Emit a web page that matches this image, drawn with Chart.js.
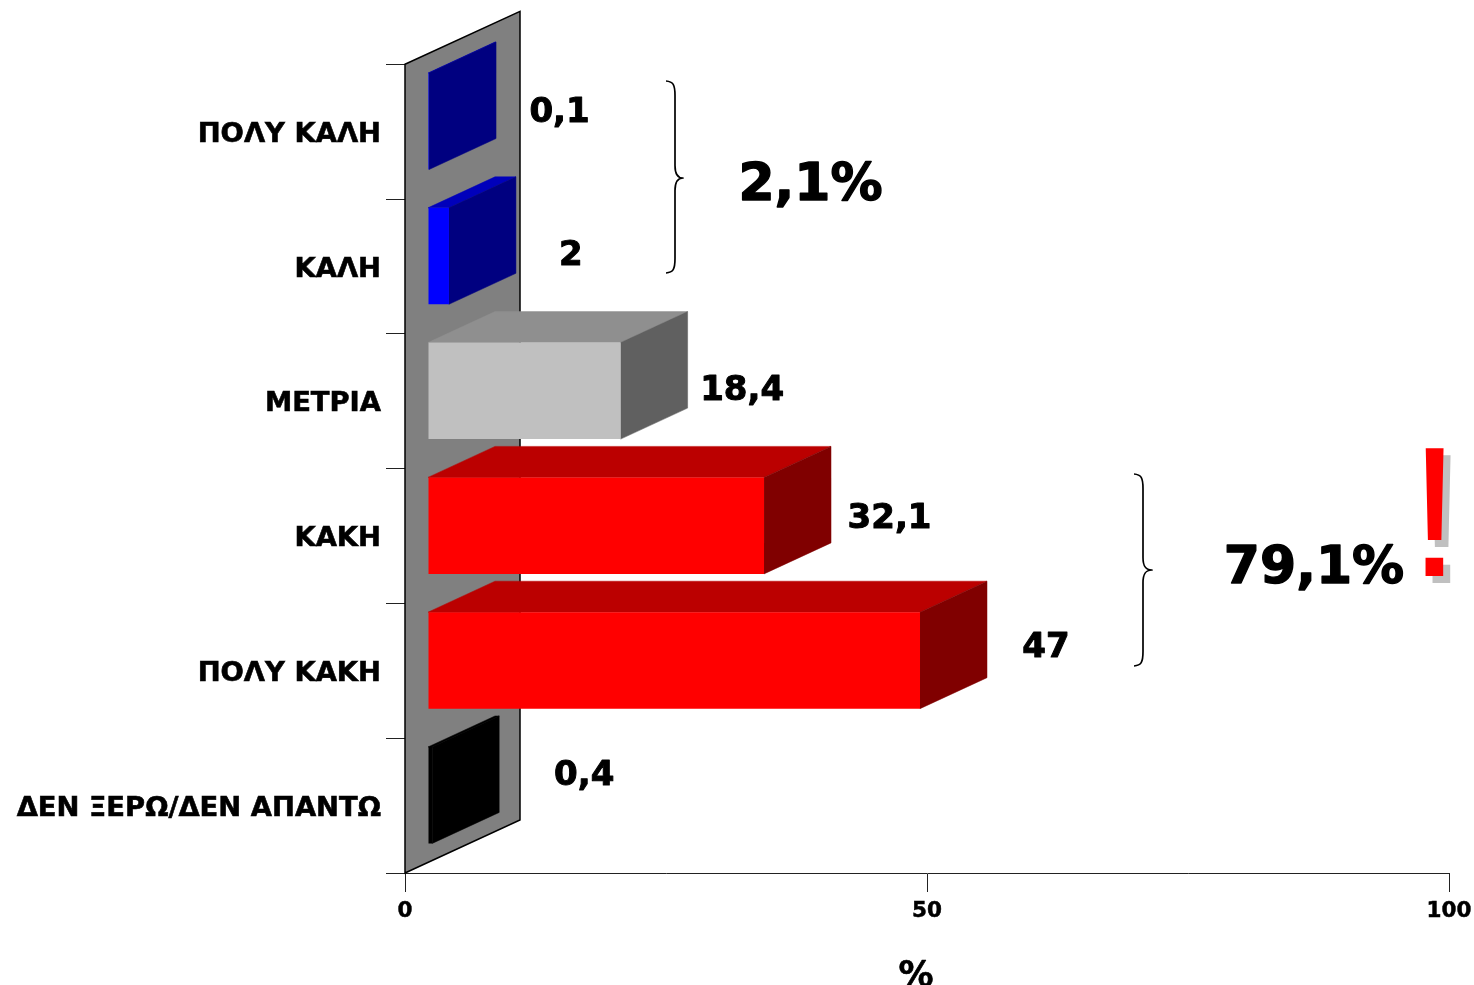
<!DOCTYPE html>
<html><head><meta charset="utf-8">
<style>html,body{margin:0;padding:0;background:#fff;overflow:hidden}canvas{display:block}</style>
<script src="https://cdn.jsdelivr.net/npm/chart.js@4/dist/chart.umd.min.js"></script>
</head><body>
<div style="width:1474px;height:985px"><canvas id="c"></canvas></div>
<script>
const categories = ["ΠΟΛΥ ΚΑΛΗ","ΚΑΛΗ","ΜΕΤΡΙΑ","ΚΑΚΗ","ΠΟΛΥ ΚΑΚΗ","ΔΕΝ ΞΕΡΩ/ΔΕΝ ΑΠΑΝΤΩ"];
const values = [0.1, 2, 18.4, 32.1, 47, 0.4];
const valueLabels = ["0,1","2","18,4","32,1","47","0,4"];
const xTicks = [0, 50, 100];
const xTitle = "%";
const frontColors = ["#0000ff","#0000ff","#c0c0c0","#ff0000","#ff0000","#000000"];
const topColors   = ["#0000bb","#0000bb","#8f8f8f","#bb0000","#bb0000","#000000"];
const sideColors  = ["#000080","#000080","#606060","#800000","#800000","#000000"];
const labelDX = [63.5, 55, 54.5, 58.5, 59, 85];
const labelDY = [-23, -14, -14, -21, -27, -34];

const FONT = '"DejaVu Sans"';
const FRONT = {dx: 23, dy: -10.4, sx: 1.0027};
const DEPTH = {dx: 67, dy: -31};
const WALL = {dx: 115, dy: -53};

function brace(ctx, tipX, spineX, pointX, y0, yM, y1) {
  const r = spineX - tipX;
  ctx.beginPath();
  ctx.moveTo(tipX, y0);
  ctx.bezierCurveTo(tipX + r*0.8, y0 + 0.5, spineX, y0 + r*0.4, spineX, y0 + r*1.6);
  ctx.lineTo(spineX, yM - r*1.4);
  ctx.bezierCurveTo(spineX, yM - r*0.5, spineX + 2, yM, pointX, yM);
  ctx.bezierCurveTo(spineX + 2, yM, spineX, yM + r*0.5, spineX, yM + r*1.4);
  ctx.lineTo(spineX, y1 - r*1.6);
  ctx.bezierCurveTo(spineX, y1 - r*0.4, tipX + r*0.8, y1 - 0.5, tipX, y1);
  ctx.lineWidth = 1.7; ctx.strokeStyle = "#000"; ctx.stroke();
}
function poly(ctx, pts, fill) {
  ctx.beginPath();
  pts.forEach((p,i)=> i ? ctx.lineTo(p[0],p[1]) : ctx.moveTo(p[0],p[1]));
  ctx.closePath(); ctx.fillStyle = fill; ctx.fill();
  ctx.lineWidth = 0.5; ctx.strokeStyle = fill; ctx.stroke();
}
function boldText(ctx, s, x, y, w) {
  ctx.lineWidth = w; ctx.strokeStyle = "#000"; ctx.lineJoin = "round";
  ctx.fillText(s, x, y); ctx.strokeText(s, x, y);
}
const bar3d = {
  id: "bar3d",
  beforeDatasetsDraw(chart) {
    const {ctx, chartArea:a} = chart;
    const x0 = chart.scales.x.getPixelForValue(0);
    const yT = a.top, yB = a.bottom;
    ctx.save();
    ctx.beginPath();
    ctx.moveTo(x0, yT); ctx.lineTo(x0+WALL.dx, yT+WALL.dy);
    ctx.lineTo(x0+WALL.dx, yB+WALL.dy); ctx.lineTo(x0, yB); ctx.closePath();
    ctx.fillStyle = "#808080"; ctx.fill();
    ctx.lineWidth = 1.5; ctx.strokeStyle = "#000"; ctx.stroke();
    chart.getDatasetMeta(0).data.forEach((el,i)=>{
      const l = x0 + FRONT.dx;
      const r = l + (el.x - x0)*FRONT.sx;
      const t = el.y - el.height/2 + FRONT.dy, b = el.y + el.height/2 + FRONT.dy;
      poly(ctx, [[l,t],[r,t],[r+DEPTH.dx,t+DEPTH.dy],[l+DEPTH.dx,t+DEPTH.dy]], topColors[i]);
      poly(ctx, [[r,t],[r+DEPTH.dx,t+DEPTH.dy],[r+DEPTH.dx,b+DEPTH.dy],[r,b]], sideColors[i]);
    });
    ctx.restore();
  },
  beforeDatasetDraw(chart) {
    const {ctx} = chart, x0 = chart.scales.x.getPixelForValue(0);
    ctx.save();
    ctx.translate(x0 + FRONT.dx, FRONT.dy);
    ctx.scale(FRONT.sx, 1);
    ctx.translate(-x0, 0);
  },
  afterDatasetDraw(chart) { chart.ctx.restore(); },
  afterDraw(chart) {
    const {ctx} = chart, x0 = chart.scales.x.getPixelForValue(0);
    ctx.save();
    ctx.textBaseline = "alphabetic"; ctx.textAlign = "center"; ctx.fillStyle = "#000";
    ctx.font = "bold 34px " + FONT;
    chart.getDatasetMeta(0).data.forEach((el,i)=>{
      const r = x0 + FRONT.dx + (el.x - x0)*FRONT.sx + DEPTH.dx;
      boldText(ctx, valueLabels[i], r + labelDX[i], el.y + labelDY[i] + 13, 1);
    });
    ctx.font = "bold 35px " + FONT;
    boldText(ctx, xTitle, 916, 986, 0.6);
    ctx.font = "bold 52px " + FONT;
    boldText(ctx, "2,1%", 810.5, 200, 1.4);
    boldText(ctx, "79,1%", 1314, 583, 1.4);
    brace(ctx, 666, 675, 683, 81, 178, 273);
    brace(ctx, 1134, 1143, 1152, 474, 570, 666);
    ctx.font = "186px 'Liberation Sans'";
    ctx.fillStyle = "#c0c0c0"; ctx.fillText("!", 1441.5, 583);
    ctx.fillStyle = "#ff0000"; ctx.fillText("!", 1434.5, 576);
    ctx.restore();
  }
};
new Chart(document.getElementById("c"), {
  type: "bar",
  data: { labels: categories, datasets: [{ data: values, backgroundColor: frontColors, borderWidth: 0, barPercentage: 0.716, categoryPercentage: 1 }] },
  options: {
    indexAxis: "y", responsive: true, maintainAspectRatio: false, animation: false,
    layout: { padding: { top: 64.3, right: 25, left: 0, bottom: 0 } },
    plugins: { legend: {display:false}, tooltip: {enabled:false} },
    scales: {
      x: {
        min: 0, max: 100, afterFit(s){ s.height = 112; s.paddingRight = 0; s.paddingLeft = 0; },
        afterBuildTicks(s){ s.ticks = xTicks.map(v=>({value:v})); },
        grid: { drawOnChartArea:false, drawTicks:true, tickLength:19, color:"#222", lineWidth:1 },
        border: { color:"#222" },
        ticks: { color:"#000", maxRotation:0, padding:7, textStrokeColor:"#000", textStrokeWidth:0.5, font:{family:FONT, weight:"bold", size:21.5} }
      },
      y: {
        afterFit(s){ s.width = 405; },
        grid: { drawOnChartArea:false, drawTicks:true, tickLength:19, color:"#222", lineWidth:1 },
        border: { color:"#222" },
        ticks: { color:"#000", padding:5, autoSkip:false, labelOffset:3, textStrokeColor:"#000", textStrokeWidth:0.6, font:{family:FONT, weight:"bold", size:27.4} }
      }
    }
  },
  plugins: [bar3d]
});
</script>
</body></html>
